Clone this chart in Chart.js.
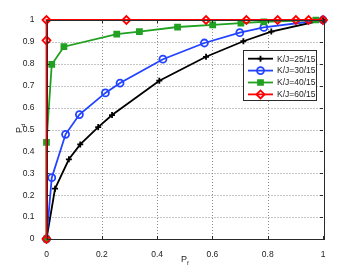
<!DOCTYPE html>
<html>
<head>
<meta charset="utf-8">
<script src="https://cdn.jsdelivr.net/npm/chart.js@4"></script>
<style>
  html, body { margin: 0; padding: 0; background: #fff; }
  #wrap { width: 357px; height: 269px; }
</style>
</head>
<body>
<div id="wrap"><canvas id="roc"></canvas></div>
<script>
const labels = ["K/J=25/15", "K/J=30/15", "K/J=40/15", "K/J=60/15"];

const pf25 = [0, 0.031, 0.081, 0.122, 0.187, 0.237, 0.408, 0.577, 0.712, 0.813, 1.0];
const pd25 = [0, 0.23, 0.364, 0.432, 0.511, 0.566, 0.723, 0.832, 0.903, 0.947, 1.0];

const pf30 = [0, 0.019, 0.069, 0.119, 0.213, 0.266, 0.421, 0.571, 0.699, 0.786, 1.0];
const pd30 = [0, 0.28, 0.478, 0.568, 0.667, 0.712, 0.821, 0.895, 0.942, 0.966, 1.0];

const pf40 = [0, 0, 0.019, 0.063, 0.254, 0.336, 0.474, 0.601, 0.703, 0.786, 0.974];
const pd40 = [0, 0.441, 0.797, 0.878, 0.936, 0.947, 0.968, 0.978, 0.986, 0.992, 1.0];

const pf60 = [0, 0, 0, 0.289, 0.577, 0.723, 0.836, 0.902, 0.948, 1.0];
const pd60 = [0, 0.907, 1, 1, 1, 1, 1, 1, 1, 1];

const xTicks = [0, 0.2, 0.4, 0.6, 0.8, 1];
const yTicks = [0, 0.1, 0.2, 0.3, 0.4, 0.5, 0.6, 0.7, 0.8, 0.9, 1];

const FONT = "Liberation Sans, Arial, sans-serif";

function pts(xs, ys) {
  return xs.map((x, i) => ({ x: x, y: ys[i] }));
}

const styles = [
  { color: "#000000", point: "cross", radius: 3, width: 1.8, fill: "#000000", order: 3 },
  { color: "#2243ff", point: "circle", radius: 3.5, width: 1.8, fill: "rgba(0,0,0,0)", order: 2 },
  { color: "#21a121", point: "rect", radius: 3.5, width: 1.8, fill: "#21a121", order: 1 },
  { color: "#ff0000", point: "rectRot", radius: 4, width: 1.8, fill: "rgba(0,0,0,0)", order: 0 },
];
const series = [pts(pf25, pd25), pts(pf30, pd30), pts(pf40, pd40), pts(pf60, pd60)];

// dotted grid under the data
const dottedGrid = {
  id: "dottedGrid",
  beforeDatasetsDraw(chart) {
    const ctx = chart.ctx;
    const a = chart.chartArea;
    const xs = chart.scales.x, ys = chart.scales.y;
    ctx.save();
    ctx.strokeStyle = "#8c8c8c";
    ctx.lineWidth = 1;
    ctx.setLineDash([1, 2]);
    xTicks.slice(1, -1).forEach(v => {
      const px = Math.round(xs.getPixelForValue(v)) + 0.5;
      ctx.beginPath();
      ctx.moveTo(px, a.top); ctx.lineTo(px, a.bottom);
      ctx.stroke();
    });
    yTicks.slice(1, -1).forEach(v => {
      const py = Math.round(ys.getPixelForValue(v)) + 0.5;
      ctx.beginPath();
      ctx.moveTo(a.left, py); ctx.lineTo(a.right, py);
      ctx.stroke();
    });
    ctx.restore();
  }
};

// box, inner ticks, axis titles and the legend, MATLAB style
const matlabBits = {
  id: "matlabBits",
  afterDraw(chart) {
    const ctx = chart.ctx;
    const a = chart.chartArea;
    const xs = chart.scales.x, ys = chart.scales.y;
    ctx.save();
    ctx.strokeStyle = "#2a2a2a";
    ctx.lineWidth = 1;
    ctx.strokeRect(Math.round(a.left) + 0.5, Math.round(a.top) + 0.5,
      Math.round(a.right - a.left), Math.round(a.bottom - a.top));
    // inward tick marks
    ctx.beginPath();
    xTicks.forEach(v => {
      const px = Math.round(xs.getPixelForValue(v)) + 0.5;
      ctx.moveTo(px, a.bottom); ctx.lineTo(px, a.bottom - 3);
      ctx.moveTo(px, a.top); ctx.lineTo(px, a.top + 3);
    });
    yTicks.forEach(v => {
      const py = Math.round(ys.getPixelForValue(v)) + 0.5;
      ctx.moveTo(a.left, py); ctx.lineTo(a.left + 3, py);
      ctx.moveTo(a.right, py); ctx.lineTo(a.right - 3, py);
    });
    ctx.stroke();

    // axis titles with subscripts
    ctx.fillStyle = "#222";
    ctx.textBaseline = "alphabetic";
    ctx.font = "9px " + FONT;
    ctx.fillText("P", 181, 262);
    ctx.font = "6px " + FONT;
    ctx.fillText("f", 187, 265);
    ctx.translate(22, 133);
    ctx.rotate(-Math.PI / 2);
    ctx.font = "9px " + FONT;
    ctx.fillText("P", 0, 0);
    ctx.font = "6px " + FONT;
    ctx.fillText("d", 6, 3);
    ctx.setTransform(1, 0, 0, 1, 0, 0);

    // legend
    const bx = 243.5, by = 50.5, bw = 73, bh = 50;
    ctx.fillStyle = "#fff";
    ctx.fillRect(bx, by, bw, bh);
    ctx.strokeStyle = "#2a2a2a";
    ctx.lineWidth = 1;
    ctx.strokeRect(bx, by, bw, bh);
    ctx.font = "8.5px " + FONT;
    ctx.textBaseline = "middle";
    labels.forEach((lab, i) => {
      const st = styles[i];
      const y = 58.7 + i * 11.9;
      ctx.strokeStyle = st.color;
      ctx.lineWidth = st.width;
      ctx.beginPath();
      ctx.moveTo(248, y); ctx.lineTo(273, y);
      ctx.stroke();
      ctx.fillStyle = st.fill;
      ctx.strokeStyle = st.color;
      ctx.lineWidth = st.width;
      Chart.helpers.drawPoint(ctx, {
        pointStyle: st.point, radius: st.radius, borderWidth: st.width, rotation: 0
      }, 260.5, y);
      ctx.fillStyle = "#222";
      ctx.fillText(lab, 277, y + 0.5);
    });
    ctx.restore();
  }
};

new Chart(document.getElementById("roc"), {
  type: "scatter",
  data: {
    datasets: series.map((d, i) => ({
      label: labels[i],
      data: d,
      showLine: true,
      borderColor: styles[i].color,
      backgroundColor: styles[i].fill,
      borderWidth: styles[i].width,
      pointStyle: styles[i].point,
      pointRadius: styles[i].radius,
      pointBorderColor: styles[i].color,
      pointBackgroundColor: styles[i].fill,
      pointBorderWidth: styles[i].width,
      order: styles[i].order,
      clip: 6,
    })),
  },
  options: {
    responsive: true,
    maintainAspectRatio: false,
    animation: false,
    layout: { padding: { left: 0, right: 34, top: 20, bottom: 0 } },
    plugins: {
      legend: { display: false },
      tooltip: { enabled: false },
    },
    scales: {
      x: {
        type: "linear",
        min: 0,
        max: 1,
        afterBuildTicks: s => { s.ticks = xTicks.map(v => ({ value: v })); },
        afterFit: s => { s.height = 30; },
        ticks: {
          color: "#222",
          font: { family: FONT, size: 8.5 },
          padding: 3,
          maxRotation: 0,
          callback: v => String(v),
        },
        grid: { display: false },
        border: { display: false },
      },
      y: {
        type: "linear",
        min: 0,
        max: 1,
        afterBuildTicks: s => { s.ticks = yTicks.map(v => ({ value: v })); },
        afterFit: s => { s.width = 46.5; },
        ticks: {
          color: "#222",
          font: { family: FONT, size: 8.5 },
          padding: 4,
          callback: v => String(v),
        },
        grid: { display: false },
        border: { display: false },
      },
    },
  },
  plugins: [dottedGrid, matlabBits],
});
</script>
</body>
</html>
